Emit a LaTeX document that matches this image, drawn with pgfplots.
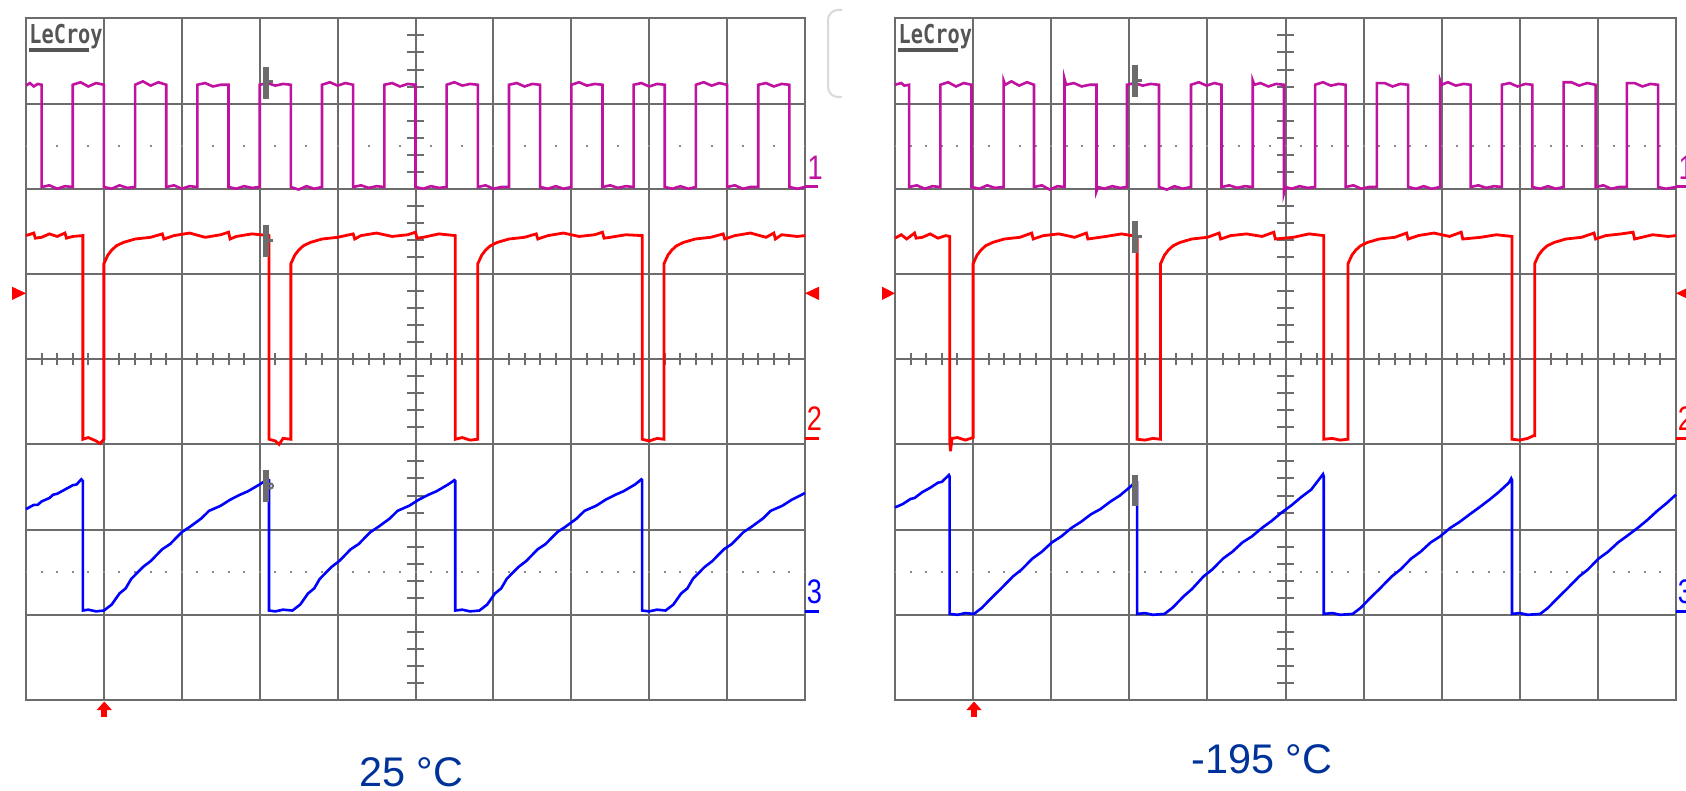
\documentclass[border=0pt]{standalone}
\usepackage{graphicx}
\usepackage{pgfplots}
\pgfplotsset{compat=1.18}
\usepackage{fontspec}
\setmainfont{Liberation Sans}
\newfontfamily\lcfont{DejaVu Sans Mono}
\definecolor{gridc}{RGB}{108,108,108}
\definecolor{dotc}{RGB}{140,140,140}
\definecolor{mag}{RGB}{192,18,160}
\definecolor{rd}{RGB}{255,0,0}
\definecolor{bl}{RGB}{0,0,255}
\definecolor{lbl}{RGB}{0,51,153}
\definecolor{logoc}{RGB}{85,85,85}
\pgfplotsset{scopeaxis/.style={
  anchor=south west, scale only axis, height=340.85pt,
  xmin=0,xmax=10,ymin=0,ymax=8,
  xtick={0,...,10}, ytick={0,...,8}, xticklabels={}, yticklabels={},
  major tick length=0pt, tick style={draw=none},
  grid=major, grid style={gridc, line width=1pt},
  axis line style={gridc, line width=1pt},
  clip=false,
}}
\begin{document}
\begin{tikzpicture}
\begin{scope}[x=0.5pt,y=-0.5pt]
\useasboundingbox (0,0) rectangle (1686,791);
\fill[white] (0,0) rectangle (1686,791);
\end{scope}
\clip (0pt,0pt) rectangle (843pt,-395.5pt);

% ================= LEFT PANEL (25 C) =================
\begin{axis}[scopeaxis, at={(13pt,-350pt)}, width=389.5pt]
\addplot[gridc, line width=6pt, dash pattern=on 1pt off 6.79pt, dash phase=0.5pt] coordinates {(0,4)(10,4)};
\addplot[gridc, line width=8.4pt, dash pattern=on 1pt off 7.52pt, dash phase=0.5pt] coordinates {(5,0)(5,8)};
\addplot[dotc, line width=1pt, dash pattern=on 1pt off 6.79pt, dash phase=0.5pt] coordinates {(0,6.5)(10,6.5)};
\addplot[dotc, line width=1pt, dash pattern=on 1pt off 6.79pt, dash phase=0.5pt] coordinates {(0,1.5)(10,1.5)};
% channel 1
\addplot[mag, line width=1.3pt] coordinates {
(0,7.21)(0.05,7.24)(0.1,7.2)(0.15,7.23)(0.2,7.22)
(0.2,6.02)(0.3,6.04)(0.4,6.0)(0.5,6.03)(0.6,6.02)
(0.6,7.22)(0.7,7.25)(0.8,7.2)(0.9,7.24)(1.0,7.22)
(1.0,6.02)(1.1,6.0)(1.2,6.04)(1.3,6.01)(1.4,6.02)
(1.4,7.22)(1.5,7.26)(1.6,7.21)(1.7,7.25)(1.8,7.22)
(1.8,6.02)(1.9,6.04)(2.0,6.0)(2.1,6.03)(2.2,6.02)
(2.2,7.22)(2.3,7.24)(2.4,7.2)(2.5,7.22)(2.6,7.22)
(2.6,6.02)(2.7,6.0)(2.8,6.03)(2.9,6.01)(3.0,6.02)
(3.0,7.22)(3.1,7.24)(3.2,7.21)(3.3,7.23)(3.4,7.22)
(3.4,6.02)(3.5,5.99)(3.6,6.03)(3.7,6.0)(3.8,6.02)
(3.8,7.22)(3.9,7.25)(4.0,7.21)(4.1,7.24)(4.2,7.22)
(4.2,6.02)(4.3,6.04)(4.4,6.01)(4.5,6.03)(4.6,6.02)
(4.6,7.22)(4.7,7.24)(4.8,7.2)(4.9,7.23)(5.0,7.22)
(5.0,6.02)(5.1,6.0)(5.2,6.03)(5.3,6.01)(5.4,6.02)
(5.4,7.22)(5.5,7.25)(5.6,7.21)(5.7,7.23)(5.8,7.22)
(5.8,6.02)(5.9,6.04)(6.0,6.0)(6.1,6.02)(6.2,6.02)
(6.2,7.22)(6.3,7.24)(6.4,7.2)(6.5,7.23)(6.6,7.22)
(6.6,6.02)(6.7,6.0)(6.8,6.03)(6.9,6.0)(7.0,6.02)
(7.0,7.22)(7.1,7.25)(7.2,7.21)(7.3,7.23)(7.4,7.22)
(7.4,6.02)(7.5,6.04)(7.6,6.01)(7.7,6.03)(7.8,6.02)
(7.8,7.22)(7.9,7.24)(8.0,7.2)(8.1,7.23)(8.2,7.22)
(8.2,6.02)(8.3,6.0)(8.4,6.03)(8.5,6.0)(8.6,6.02)
(8.6,7.22)(8.7,7.25)(8.8,7.21)(8.9,7.24)(9.0,7.22)
(9.0,6.02)(9.1,6.04)(9.2,6.0)(9.3,6.02)(9.4,6.02)
(9.4,7.22)(9.5,7.24)(9.6,7.2)(9.7,7.23)(9.8,7.22)
(9.8,6.02)(9.9,6.0)(10,6.02)};
% channel 2
\addplot[rd, line width=1.4pt] coordinates {
(0,5.45)(0.1,5.48)(0.12,5.42)(0.2,5.43)(0.3,5.47)(0.4,5.44)(0.5,5.48)(0.52,5.42)(0.6,5.44)(0.73,5.45)
(0.73,3.06)(0.8,3.08)(0.9,3.04)(0.95,3.01)(1.0,3.06)
(1.0,5.12)(1.05,5.22)(1.1,5.28)(1.16,5.33)(1.25,5.37)(1.4,5.41)(1.6,5.43)(1.75,5.47)(1.77,5.41)(1.9,5.45)(2.1,5.48)(2.3,5.43)(2.5,5.46)(2.6,5.49)(2.62,5.41)(2.7,5.44)(2.9,5.47)(3.12,5.45)
(3.12,3.06)(3.2,3.04)(3.25,3.0)(3.3,3.07)(3.4,3.06)
(3.4,5.12)(3.45,5.22)(3.5,5.28)(3.56,5.33)(3.65,5.37)(3.8,5.41)(4.0,5.43)(4.2,5.47)(4.22,5.41)(4.3,5.45)(4.5,5.48)(4.7,5.44)(4.9,5.46)(5.0,5.49)(5.02,5.42)(5.1,5.43)(5.3,5.47)(5.51,5.45)
(5.51,3.06)(5.6,3.08)(5.7,3.05)(5.8,3.06)
(5.8,5.12)(5.85,5.22)(5.9,5.28)(5.96,5.33)(6.05,5.37)(6.2,5.41)(6.4,5.43)(6.55,5.47)(6.57,5.41)(6.7,5.45)(6.9,5.48)(7.1,5.44)(7.3,5.46)(7.4,5.49)(7.42,5.42)(7.5,5.43)(7.7,5.46)(7.91,5.45)
(7.91,3.06)(8.0,3.04)(8.1,3.07)(8.19,3.06)
(8.19,5.12)(8.24,5.22)(8.29,5.28)(8.35,5.33)(8.44,5.37)(8.59,5.41)(8.79,5.43)(8.95,5.47)(8.97,5.41)(9.1,5.45)(9.3,5.48)(9.5,5.43)(9.6,5.48)(9.62,5.41)(9.7,5.46)(9.9,5.44)(10,5.45)};
% channel 3
\addplot[bl, line width=1.3pt] coordinates {
(0,2.24)(0.1,2.29)(0.15,2.29)(0.2,2.33)(0.3,2.37)(0.35,2.41)(0.4,2.42)(0.5,2.47)(0.6,2.52)(0.65,2.53)(0.71,2.59)(0.73,2.57)
(0.73,1.05)(0.8,1.06)(0.9,1.04)(1.0,1.05)
(1.1,1.12)(1.2,1.25)(1.28,1.31)(1.35,1.42)(1.5,1.56)(1.6,1.63)(1.75,1.77)(1.85,1.83)(2.0,1.97)(2.1,2.03)(2.25,2.13)(2.35,2.22)(2.5,2.28)(2.62,2.35)(2.75,2.41)(2.85,2.45)(3.0,2.53)(3.1,2.59)(3.12,2.58)
(3.12,1.05)(3.2,1.04)(3.3,1.06)(3.42,1.05)
(3.52,1.12)(3.62,1.25)(3.7,1.31)(3.77,1.42)(3.92,1.56)(4.02,1.63)(4.17,1.77)(4.27,1.83)(4.42,1.97)(4.52,2.03)(4.67,2.13)(4.77,2.22)(4.92,2.28)(5.04,2.35)(5.17,2.41)(5.27,2.45)(5.42,2.53)(5.5,2.58)(5.51,2.57)
(5.51,1.05)(5.6,1.06)(5.7,1.04)(5.82,1.05)
(5.92,1.12)(6.02,1.25)(6.1,1.31)(6.17,1.42)(6.32,1.56)(6.42,1.63)(6.57,1.77)(6.67,1.83)(6.82,1.97)(6.92,2.03)(7.07,2.13)(7.17,2.22)(7.32,2.28)(7.44,2.35)(7.57,2.41)(7.67,2.45)(7.82,2.53)(7.9,2.59)(7.91,2.58)
(7.91,1.05)(8.0,1.04)(8.1,1.06)(8.21,1.05)
(8.31,1.12)(8.41,1.25)(8.49,1.31)(8.56,1.42)(8.71,1.56)(8.81,1.63)(8.96,1.77)(9.06,1.83)(9.21,1.97)(9.31,2.03)(9.46,2.13)(9.56,2.22)(9.71,2.28)(9.83,2.35)(9.96,2.41)(10,2.43)};
\end{axis}

% ================= RIGHT PANEL (-195 C) =================
\begin{axis}[scopeaxis, at={(447.5pt,-350pt)}, width=390.5pt]
\addplot[gridc, line width=6pt, dash pattern=on 1pt off 6.81pt, dash phase=0.5pt] coordinates {(0,4)(10,4)};
\addplot[gridc, line width=8.4pt, dash pattern=on 1pt off 7.52pt, dash phase=0.5pt] coordinates {(5,0)(5,8)};
\addplot[dotc, line width=1pt, dash pattern=on 1pt off 6.81pt, dash phase=0.5pt] coordinates {(0,6.5)(10,6.5)};
\addplot[dotc, line width=1pt, dash pattern=on 1pt off 6.81pt, dash phase=0.5pt] coordinates {(0,1.5)(10,1.5)};
% channel 1
\addplot[mag, line width=1.3pt] coordinates {
(0,7.22)(0.08,7.24)(0.12,7.21)(0.18,7.22)
(0.18,6.02)(0.28,6.04)(0.38,6.0)(0.48,6.03)(0.58,6.02)
(0.58,7.22)(0.68,7.25)(0.78,7.2)(0.88,7.24)(0.98,7.22)
(0.98,6.02)(1.08,6.0)(1.18,6.04)(1.28,6.01)(1.39,6.02)
(1.39,7.27)(1.41,7.22)(1.49,7.26)(1.59,7.21)(1.69,7.25)(1.78,7.22)
(1.78,6.02)(1.88,6.04)(1.98,5.99)(2.08,6.03)(2.17,6.02)
(2.17,7.29)(2.19,7.22)(2.29,7.24)(2.39,7.2)(2.49,7.22)(2.58,7.22)
(2.58,5.97)(2.6,6.02)(2.68,6.0)(2.78,6.03)(2.88,6.01)(2.97,6.02)
(2.97,7.22)(3.07,7.24)(3.17,7.21)(3.27,7.23)(3.38,7.22)
(3.38,6.02)(3.48,5.99)(3.58,6.03)(3.68,6.0)(3.79,6.02)
(3.79,7.22)(3.89,7.25)(3.99,7.21)(4.09,7.24)(4.18,7.22)
(4.18,6.02)(4.28,6.04)(4.38,6.01)(4.48,6.03)(4.58,6.02)
(4.58,7.27)(4.6,7.22)(4.68,7.24)(4.78,7.2)(4.88,7.23)(4.98,7.22)
(4.98,5.95)(5.0,6.02)(5.08,6.0)(5.18,6.03)(5.28,6.01)(5.38,6.02)
(5.38,7.22)(5.48,7.25)(5.58,7.21)(5.68,7.23)(5.77,7.22)
(5.77,6.02)(5.87,6.04)(5.97,6.0)(6.07,6.02)(6.17,6.02)
(6.17,7.24)(6.27,7.24)(6.37,7.2)(6.47,7.23)(6.57,7.22)
(6.57,6.02)(6.67,6.0)(6.77,6.03)(6.87,6.0)(6.98,6.02)
(6.98,7.27)(7.0,7.22)(7.08,7.25)(7.18,7.21)(7.28,7.23)(7.37,7.22)
(7.37,6.02)(7.47,6.04)(7.57,6.01)(7.67,6.03)(7.77,6.02)
(7.77,7.22)(7.87,7.24)(7.97,7.2)(8.07,7.23)(8.16,7.22)
(8.16,6.02)(8.26,6.0)(8.36,6.03)(8.46,6.0)(8.56,6.02)
(8.56,7.25)(8.66,7.25)(8.76,7.21)(8.86,7.24)(8.97,7.22)
(8.97,6.02)(9.07,6.04)(9.17,6.0)(9.27,6.02)(9.37,6.02)
(9.37,7.24)(9.47,7.24)(9.57,7.2)(9.67,7.23)(9.77,7.22)
(9.77,6.02)(9.87,6.0)(10,6.02)};
% channel 2
\addplot[rd, line width=1.4pt] coordinates {
(0,5.42)(0.08,5.46)(0.15,5.41)(0.25,5.48)(0.27,5.42)(0.35,5.43)(0.45,5.47)(0.55,5.42)(0.65,5.45)(0.70,5.44)
(0.70,3.06)(0.71,2.92)(0.73,3.07)(0.8,3.08)(0.9,3.05)(1.0,3.08)
(1.0,5.12)(1.05,5.22)(1.1,5.28)(1.16,5.33)(1.25,5.37)(1.4,5.41)(1.6,5.43)(1.75,5.48)(1.77,5.41)(1.9,5.45)(2.1,5.47)(2.3,5.43)(2.45,5.48)(2.47,5.41)(2.7,5.44)(2.9,5.47)(3.1,5.44)
(3.1,3.06)(3.2,3.05)(3.3,3.07)(3.4,3.06)
(3.4,5.12)(3.45,5.22)(3.5,5.28)(3.56,5.33)(3.65,5.37)(3.8,5.41)(4.0,5.43)(4.15,5.48)(4.17,5.41)(4.3,5.45)(4.5,5.47)(4.7,5.44)(4.85,5.49)(4.87,5.41)(5.1,5.43)(5.3,5.47)(5.49,5.45)
(5.49,3.06)(5.6,3.07)(5.7,3.05)(5.8,3.06)
(5.8,5.12)(5.85,5.22)(5.9,5.28)(5.96,5.33)(6.05,5.37)(6.2,5.41)(6.4,5.43)(6.55,5.48)(6.57,5.41)(6.7,5.45)(6.9,5.48)(7.1,5.44)(7.25,5.49)(7.27,5.41)(7.5,5.43)(7.7,5.46)(7.9,5.44)
(7.9,3.06)(8.0,3.05)(8.1,3.07)(8.17,3.1)(8.19,3.1)
(8.19,5.12)(8.24,5.22)(8.29,5.28)(8.35,5.33)(8.44,5.37)(8.59,5.41)(8.79,5.43)(8.95,5.48)(8.97,5.41)(9.1,5.45)(9.3,5.47)(9.45,5.49)(9.47,5.41)(9.7,5.46)(9.9,5.44)(10,5.45)};
% channel 3
\addplot[bl, line width=1.3pt] coordinates {
(0,2.26)(0.1,2.3)(0.2,2.36)(0.25,2.37)(0.35,2.44)(0.45,2.49)(0.55,2.55)(0.6,2.56)(0.69,2.64)(0.70,2.62)
(0.70,1.01)(0.8,1.0)(0.9,1.02)(1.01,1.01)
(1.11,1.08)(1.26,1.22)(1.35,1.3)(1.51,1.45)(1.62,1.53)(1.76,1.66)(1.88,1.74)(2.01,1.85)(2.13,1.92)(2.26,2.02)(2.38,2.09)(2.51,2.18)(2.63,2.24)(2.76,2.33)(2.88,2.4)(3.01,2.5)(3.09,2.57)(3.10,2.56)
(3.10,1.01)(3.2,1.02)(3.3,1.0)(3.45,1.01)
(3.55,1.08)(3.7,1.22)(3.8,1.3)(3.95,1.45)(4.06,1.53)(4.2,1.66)(4.32,1.74)(4.45,1.85)(4.57,1.92)(4.7,2.02)(4.82,2.1)(4.95,2.2)(5.07,2.28)(5.2,2.38)(5.33,2.47)(5.48,2.65)(5.49,2.62)
(5.49,1.01)(5.6,1.02)(5.7,1.0)(5.86,1.01)
(5.96,1.08)(6.11,1.22)(6.2,1.3)(6.36,1.45)(6.47,1.53)(6.61,1.66)(6.73,1.74)(6.86,1.85)(6.98,1.92)(7.11,2.02)(7.23,2.09)(7.36,2.18)(7.48,2.26)(7.61,2.35)(7.73,2.44)(7.86,2.55)(7.89,2.6)(7.90,2.58)
(7.90,1.01)(8.0,1.02)(8.1,1.0)(8.26,1.01)
(8.36,1.08)(8.51,1.22)(8.6,1.3)(8.76,1.45)(8.87,1.53)(9.01,1.66)(9.13,1.74)(9.26,1.85)(9.38,1.93)(9.51,2.02)(9.63,2.11)(9.76,2.22)(9.88,2.31)(10,2.41)};
\end{axis}

% ================= decorations (pixel coordinates) =================
\begin{scope}[x=0.5pt,y=-0.5pt]
\node[anchor=base west, inner sep=0pt, text=logoc] at (29,44) {\lcfont\bfseries\fontsize{13pt}{13pt}\selectfont\scalebox{0.78}[1]{LeCroy}};
\draw[logoc, line width=2pt] (29,50.5) -- (89.3,50.5);
\node[anchor=base west, inner sep=0pt, text=logoc] at (898.3,44) {\lcfont\bfseries\fontsize{13pt}{13pt}\selectfont\scalebox{0.78}[1]{LeCroy}};
\draw[logoc, line width=2pt] (898.3,50.5) -- (958.3,50.5);
\draw[gray!30, line width=1pt, rounded corners=5pt] (842,10) -- (828,10) -- (828,97) -- (842,97);
\fill[gridc] (262.7,66.7) rectangle (268.7,99.3); \fill[gridc] (268.7,80.5) rectangle (273,83);
\fill[gridc] (262.7,225) rectangle (268.7,256.7); \fill[gridc] (268.7,239.5) rectangle (273,242);
\fill[gridc] (262.7,470) rectangle (268.7,501.7); \draw[gridc, line width=1pt] (270.5,486) circle (2.5);
\fill[gridc] (1132,65) rectangle (1138,96.7); \fill[gridc] (1138,79.5) rectangle (1142,82);
\fill[gridc] (1132,220.7) rectangle (1138,252.7); \fill[gridc] (1138,235.5) rectangle (1142,238);
\fill[gridc] (1132,475) rectangle (1138,506);
\fill[rd] (26,293.3) -- (12,286.7) -- (12,300) -- cycle;
\fill[rd] (805,293.3) -- (819,286.7) -- (819,300) -- cycle;
\fill[rd] (895,293.3) -- (882,286.7) -- (882,300) -- cycle;
\fill[rd] (1676,293.3) -- (1690,286.7) -- (1690,300) -- cycle;
\fill[rd] (96.7,710) -- (104.3,701.5) -- (111.9,710) -- cycle; \fill[rd] (101.3,709) rectangle (107.3,716.7);
\fill[rd] (966.4,710) -- (974,701.5) -- (981.6,710) -- cycle; \fill[rd] (971,709) rectangle (977,716.7);
\node[anchor=base west, inner sep=0pt, text=mag] at (807.3,180) {\fontsize{17pt}{17pt}\selectfont\scalebox{0.8}[1]{1}};
\draw[mag, line width=1.5pt] (805,187) -- (818,187);
\node[anchor=base west, inner sep=0pt, text=rd] at (806.5,430) {\fontsize{17pt}{17pt}\selectfont\scalebox{0.8}[1]{2}};
\draw[rd, line width=1.5pt] (805,438.5) -- (819,438.5);
\node[anchor=base west, inner sep=0pt, text=bl] at (806.5,603.3) {\fontsize{17pt}{17pt}\selectfont\scalebox{0.8}[1]{3}};
\draw[bl, line width=1.5pt] (805,611) -- (819,611);
\node[anchor=base west, inner sep=0pt, text=mag] at (1678.3,180) {\fontsize{17pt}{17pt}\selectfont\scalebox{0.8}[1]{1}};
\draw[mag, line width=1.5pt] (1676,187) -- (1690,187);
\node[anchor=base west, inner sep=0pt, text=rd] at (1677.5,430) {\fontsize{17pt}{17pt}\selectfont\scalebox{0.8}[1]{2}};
\draw[rd, line width=1.5pt] (1676,438.5) -- (1690,438.5);
\node[anchor=base west, inner sep=0pt, text=bl] at (1677.5,603.3) {\fontsize{17pt}{17pt}\selectfont\scalebox{0.8}[1]{3}};
\draw[bl, line width=1.5pt] (1676,611) -- (1690,611);
\node[anchor=base, inner sep=0pt, text=lbl] at (411.3,786.7) {\fontsize{20.7pt}{24pt}\selectfont 25 °C};
\node[anchor=base, inner sep=0pt, text=lbl] at (1262,773.3) {\fontsize{20.7pt}{24pt}\selectfont -195 °C};
\end{scope}
\end{tikzpicture}
\end{document}
